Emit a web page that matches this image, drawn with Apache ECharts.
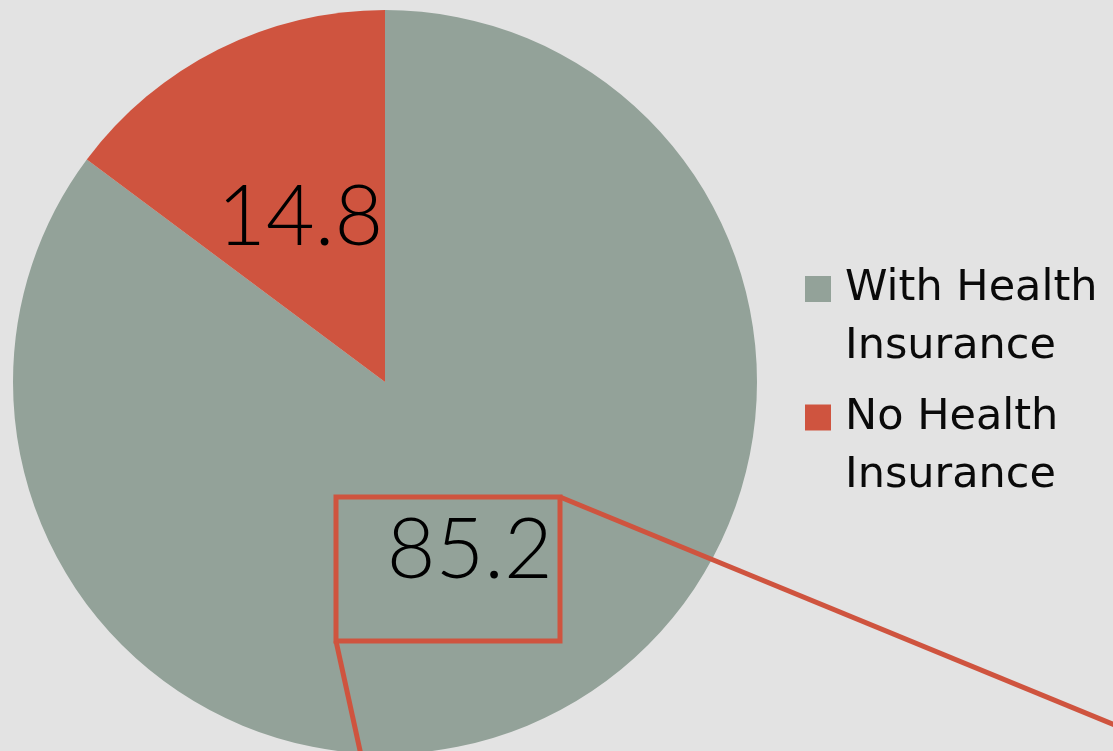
<!DOCTYPE html>
<html>
<head>
<meta charset="utf-8">
<script src="https://cdn.jsdelivr.net/npm/echarts@6/dist/echarts.min.js"></script>
<style>
  html, body { margin: 0; padding: 0; background: #e3e3e3; }
  #chart { width: 1113px; height: 751px; }
</style>
</head>
<body>
<div id="chart"></div>
<script>
const categories = ["With Health Insurance", "No Health Insurance"];
const values = [85.2, 14.8];
const colors = ["#93a299", "#cf543f"];

const myChart = echarts.init(document.getElementById("chart"));
const accent = "#cf543f";

const option = {
    backgroundColor: "#e3e3e3",
    animation: false,
    legend: {
        orient: "vertical",
        left: 805,
        top: 202,
        padding: 0,
        itemGap: -45.5,
        itemWidth: 26,
        itemHeight: 26,
        icon: "rect",
        data: categories,
        // blank first line keeps the square level with the first text line
        formatter: (name) => "\n" + name.replace(" Insurance", "\nInsurance"),
        textStyle: {
            fontFamily: "DejaVu Sans",
            fontSize: 43,
            lineHeight: 58,
            color: "#0a0a0a",
            padding: [0, 0, 0, 9],
        },
    },
    series: [
        {
            type: "pie",
            center: [385, 382],
            radius: [0, 372],
            startAngle: 90,
            clockwise: true,
            silent: true,
            label: {
                show: true,
                position: "inside",
                formatter: "{c}",
                fontFamily: "Lato",
                fontWeight: 300,
                fontSize: 84,
                color: "#000",
            },
            labelLine: { show: false },
            data: categories.map((name, i) => ({
                name: name,
                value: values[i],
                itemStyle: { color: colors[i] },
                label: { offset: i === 1 ? [0, 5] : [0, 0] },
            })),
        },
    ],
    graphic: [
        {
            type: "rect",
            shape: { x: 336, y: 497, width: 224, height: 144 },
            style: { fill: "none", stroke: accent, lineWidth: 5 },
            z: 10,
        },
        {
            type: "line",
            shape: { x1: 560, y1: 497, x2: 1200, y2: 760 },
            style: { stroke: accent, lineWidth: 5 },
            z: 10,
        },
        {
            type: "line",
            shape: { x1: 336, y1: 641, x2: 361, y2: 755 },
            style: { stroke: accent, lineWidth: 5 },
            z: 10,
        },
    ],
};

option && myChart.setOption(option);
</script>
</body>
</html>
